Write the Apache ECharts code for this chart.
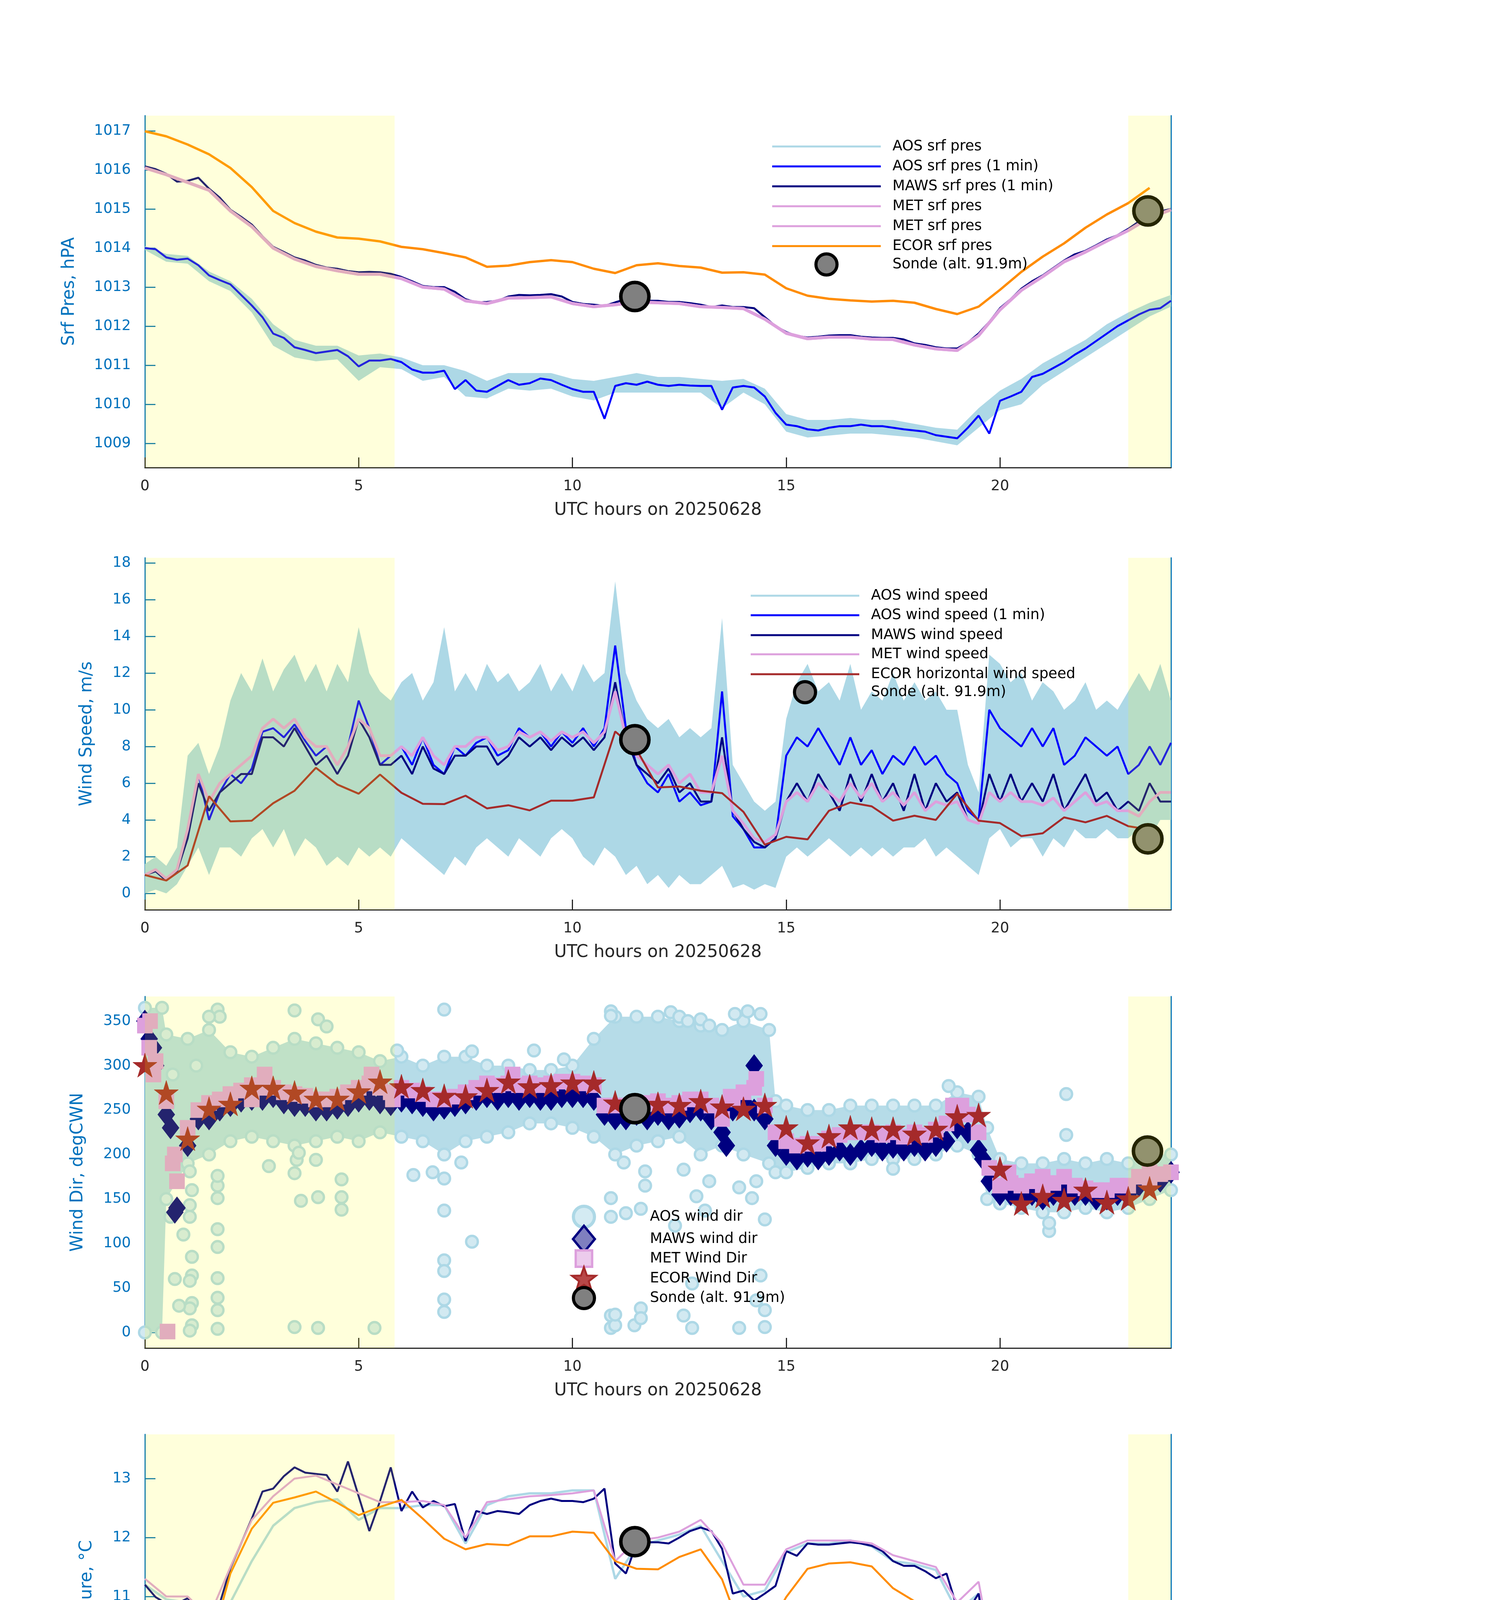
<!DOCTYPE html>
<html><head><meta charset="utf-8">
<script src="https://cdn.jsdelivr.net/npm/echarts@6/dist/echarts.min.js"></script>
<style>html,body{margin:0;padding:0;background:#fff}#c{width:3825px;height:7125px}</style>
</head><body><div id="c"></div>
<script>
// ---------------- DATA ----------------
const HOUR_TICKS = [0, 5, 10, 15, 20];
const SHADE = [[0, 5.84], [23.0, 24]];
const Y_TICKS = [
  [1009, 1010, 1011, 1012, 1013, 1014, 1015, 1016, 1017],
  [0, 2, 4, 6, 8, 10, 12, 14, 16, 18],
  [0, 50, 100, 150, 200, 250, 300, 350],
  [8, 9, 10, 11, 12, 13],
  [65, 70, 75, 80, 85, 90, 95, 100],
  [0, 2, 4, 6, 8, 10, 12, 14]
];
const Y_NAMES = ['Srf Pres, hPA', 'Wind Speed, m/s', 'Wind Dir, degCWN', 'Temperature, \u00B0C', 'Relative Humidity, %', 'Precip. Water Vapor, mm'];
const X_NAME = 'UTC hours on 20250628';

const P1_AOS1 = [1014.0,1013.97,1013.76,1013.7,1013.73,1013.56,1013.3,1013.18,1013.07,1012.8,1012.53,1012.23,1011.81,1011.7,1011.46,1011.39,1011.31,1011.35,1011.39,1011.23,1010.97,1011.12,1011.12,1011.16,1011.08,1010.89,1010.81,1010.81,1010.86,1010.39,1010.62,1010.35,1010.32,1010.47,1010.62,1010.5,1010.54,1010.66,1010.62,1010.5,1010.39,1010.32,1010.32,1009.63,1010.47,1010.54,1010.5,1010.58,1010.5,1010.47,1010.5,1010.48,1010.47,1010.47,1009.86,1010.43,1010.47,1010.43,1010.2,1009.78,1009.48,1009.44,1009.36,1009.33,1009.4,1009.44,1009.44,1009.48,1009.44,1009.44,1009.4,1009.36,1009.33,1009.3,1009.21,1009.17,1009.13,1009.4,1009.71,1009.25,1010.09,1010.2,1010.32,1010.7,1010.78,1010.93,1011.08,1011.27,1011.43,1011.62,1011.81,1012.0,1012.15,1012.3,1012.42,1012.46,1012.65];
const P1_MAWS = [1016.09,1016.02,1015.9,1015.7,1015.72,1015.8,1015.52,1015.29,1014.98,1014.8,1014.6,1014.3,1014.03,1013.9,1013.76,1013.68,1013.57,1013.5,1013.47,1013.41,1013.38,1013.39,1013.38,1013.34,1013.26,1013.15,1013.03,1013.0,1013.0,1012.88,1012.69,1012.61,1012.62,1012.65,1012.76,1012.8,1012.79,1012.8,1012.82,1012.76,1012.62,1012.57,1012.55,1012.52,1012.61,1012.69,1012.69,1012.65,1012.65,1012.62,1012.62,1012.59,1012.55,1012.49,1012.53,1012.49,1012.49,1012.46,1012.23,1012.0,1011.85,1011.75,1011.71,1011.73,1011.76,1011.77,1011.77,1011.73,1011.71,1011.7,1011.7,1011.66,1011.56,1011.52,1011.46,1011.43,1011.43,1011.58,1011.81,1012.11,1012.46,1012.69,1012.96,1013.15,1013.3,1013.49,1013.68,1013.84,1013.93,1014.07,1014.22,1014.33,1014.49,1014.68,1014.81,1014.94,1015.0];
const P1_MET = [1016.05,1015.88,1015.68,1015.48,1014.95,1014.55,1014.0,1013.72,1013.53,1013.42,1013.33,1013.33,1013.22,1013.0,1012.95,1012.65,1012.58,1012.72,1012.73,1012.75,1012.58,1012.5,1012.55,1012.62,1012.6,1012.58,1012.5,1012.48,1012.45,1012.18,1011.82,1011.68,1011.72,1011.72,1011.67,1011.66,1011.52,1011.42,1011.38,1011.76,1012.42,1012.92,1013.27,1013.65,1013.9,1014.18,1014.45,1014.78,1014.98];
const P1_AOS_HI = [1014.05,1013.85,1013.8,1013.4,1013.15,1012.7,1012.05,1011.65,1011.5,1011.5,1011.25,1011.3,1011.2,1011.0,1011.0,1010.85,1010.6,1010.8,1010.8,1010.8,1010.65,1010.6,1010.7,1010.8,1010.7,1010.7,1010.65,1010.6,1010.65,1010.4,1009.75,1009.6,1009.6,1009.65,1009.6,1009.6,1009.5,1009.4,1009.35,1009.9,1010.35,1010.65,1011.05,1011.35,1011.65,1012.05,1012.35,1012.6,1012.8];
const P1_AOS_LO = [1013.95,1013.65,1013.6,1013.15,1012.9,1012.35,1011.5,1011.2,1011.1,1011.15,1010.6,1010.95,1010.9,1010.6,1010.7,1010.2,1010.15,1010.4,1010.35,1010.4,1010.2,1010.1,1010.3,1010.3,1010.3,1010.3,1010.3,1009.9,1010.3,1010.0,1009.3,1009.15,1009.2,1009.25,1009.25,1009.2,1009.15,1009.05,1008.95,1009.4,1009.85,1010.0,1010.5,1010.85,1011.2,1011.55,1011.9,1012.25,1012.5];
const P1_ECOR = [1016.99,1016.86,1016.65,1016.4,1016.05,1015.56,1014.95,1014.64,1014.42,1014.27,1014.24,1014.17,1014.03,1013.97,1013.87,1013.76,1013.52,1013.55,1013.64,1013.69,1013.64,1013.47,1013.36,1013.56,1013.61,1013.54,1013.5,1013.37,1013.38,1013.32,1012.97,1012.78,1012.7,1012.66,1012.63,1012.65,1012.6,1012.44,1012.31,1012.5,1012.93,1013.39,1013.78,1014.12,1014.52,1014.86,1015.15,1015.54];
const P1_SONDE = [[11.46, 1012.76], [23.46, 1014.95]];

const P2_AOS1 = [1.0,1.3,0.8,1.3, 3.5,6.5,4.0,5.5, 6.5,6.0,6.8,8.8, 9.0,8.5,9.2,8.3, 7.5,8.0,7.0,8.0, 10.5,9.0,7.0,7.5, 8.0,7.0,8.5,7.0, 6.5,8.0,7.5,8.2, 8.5,7.5,7.8,9.0, 8.5,8.8,8.0,8.8, 8.2,9.0,8.0,9.0, 13.5,9.0,7.0,6.0, 5.5,6.5,5.0,5.5, 4.8,5.0,11.0,4.2, 3.5,2.5,2.5,3.0, 7.5,8.5,8.0,9.0, 8.0,7.0,8.5,7.0, 7.8,6.5,7.5,7.0, 8.0,7.0,7.5,6.5, 6.0,4.5,4.0,10.0, 9.0,8.5,8.0,9.0, 8.0,9.0,7.0,7.5, 8.5,8.0,7.5,8.0, 6.5,7.0,8.0,7.0, 8.2];
const P2_MAWS = [1.0,1.2,0.7,1.2, 3.0,6.0,4.5,5.5, 6.0,6.5,6.5,8.5, 8.5,8.0,9.0,8.0, 7.0,7.5,6.5,7.5, 9.5,8.5,7.0,7.0, 7.5,6.5,8.0,6.8, 6.5,7.5,7.5,8.0, 8.0,7.0,7.5,8.5, 8.0,8.5,7.8,8.5, 8.0,8.5,7.8,8.5, 11.5,8.5,7.0,6.5, 6.0,6.8,5.5,6.0, 5.0,5.0,8.5,4.5, 3.5,2.8,2.5,3.0, 5.0,6.0,5.0,6.5, 5.5,4.5,6.5,5.0, 6.5,5.0,6.0,4.5, 6.5,4.5,6.0,5.0, 5.5,4.0,3.8,6.5, 5.0,6.5,5.0,6.0, 5.0,6.5,4.5,5.5, 6.5,5.0,5.5,4.5, 5.0,4.5,6.0,5.0, 5.0];
const P2_MET = [1.0,1.3,0.8,1.3, 3.5,6.5,5.0,6.0, 6.5,7.0,7.5,9.0, 9.5,9.0,9.5,8.5, 8.0,8.0,7.0,8.0, 9.5,9.0,7.5,7.5, 8.0,7.5,8.5,7.5, 7.0,8.0,8.0,8.5, 8.5,7.8,8.0,8.8, 8.5,8.8,8.3,8.8, 8.5,8.8,8.2,8.8, 11.0,8.5,7.5,7.0, 6.5,7.0,6.0,6.5, 5.5,5.5,7.5,4.5, 3.8,3.0,2.8,3.2, 5.0,5.5,5.0,6.0, 5.5,5.0,6.0,5.2, 6.0,5.0,5.5,4.8, 5.5,4.5,5.0,4.8, 5.0,4.0,3.8,5.5, 5.0,5.5,5.0,5.0, 4.8,5.2,4.5,5.0, 5.5,4.8,5.0,4.5, 4.5,4.2,5.0,5.5, 5.5];
const P2_AOS_LO = [0.0,0.2,0.0,0.5, 1.5,2.5,1.0,2.5, 2.5,2.0,3.0,3.5, 2.5,3.5,2.0,3.0, 2.5,1.5,2.0,1.5, 2.5,2.0,2.5,2.0, 3.0,2.5,2.0,1.5, 1.0,2.0,1.5,2.5, 3.0,2.5,2.0,3.0, 2.5,2.0,3.0,3.5, 3.0,2.0,1.5,2.5, 2.0,1.0,1.5,0.5, 1.0,0.3,1.0,0.5, 0.5,1.0,1.5,0.3, 0.5,0.2,0.5,0.3, 2.0,2.5,2.0,2.5, 3.0,2.5,2.0,2.5, 2.0,2.5,2.0,2.5, 2.5,3.0,2.0,2.5, 2.0,1.5,1.0,3.0, 3.5,2.5,3.0,3.0, 2.0,3.0,2.5,3.5, 3.0,3.0,3.5,3.0, 3.0,3.5,3.0,4.0, 4.0];
const P2_AOS_HI = [1.6,2.0,1.5,2.5, 7.5,8.2,6.5,8.0, 10.5,12.0,11.0,12.8, 11.0,12.2,13.0,11.5, 12.5,11.0,12.5,11.5, 14.5,12.0,11.0,10.5, 11.5,12.0,10.5,11.5, 14.5,11.0,12.0,11.0, 12.5,11.5,12.0,11.0, 11.5,12.5,11.0,12.0, 11.0,12.5,11.5,12.0, 17.0,12.0,10.5,9.5, 9.0,9.5,8.5,9.0, 8.5,9.0,15.0,7.0, 6.0,5.0,4.5,5.0, 9.5,11.5,12.5,11.0, 11.5,10.5,12.5,10.0, 11.0,10.5,12.0,10.5, 11.5,10.5,11.0,10.0, 10.0,7.0,5.5,13.0, 12.5,11.5,12.0,10.5, 11.5,11.0,10.0,10.5, 11.5,10.0,10.5,10.0, 11.0,12.0,11.0,12.5, 10.5];
const P2_ECOR = [1.0,0.7,1.52,5.29,3.92,3.96,4.91,5.59,6.84,5.93,5.43,6.47,5.48,4.88,4.86,5.32,4.63,4.8,4.52,5.05,5.05,5.23,8.82,7.83,5.77,5.82,5.59,5.46,4.44,2.65,3.08,2.94,4.5,4.95,4.74,3.96,4.23,4.0,5.43,3.96,3.83,3.12,3.27,4.14,3.87,4.22,3.66,3.47];
const P2_SONDE = [[11.46, 8.37], [23.46, 2.97]];

const P3_AOS_BAND = [[0,0,365],[0.4,0,365],[0.5,150,335],[1.0,190,330],[1.5,200,340],[2.0,215,315],[2.5,220,310],[3.0,215,320],[3.5,210,330],[4.0,215,325],[4.5,220,320],[5.0,215,315],[5.5,225,305],[6.0,220,310],[6.5,215,300],[7.0,200,310],[7.5,215,310],[8.0,220,300],[8.5,225,300],[9.0,235,295],[9.5,235,295],[10.0,230,300],[10.5,220,330],[11.0,200,355],[11.5,210,355],[12.0,215,355],[12.5,220,350],[13.0,200,345],[13.5,210,340],[14.0,200,350],[14.6,190,340],[14.75,180,260],[15.0,180,255],[15.5,185,250],[16.0,190,250],[16.5,190,255],[17.0,195,255],[17.5,195,255],[18.0,195,255],[18.5,200,255],[19.0,210,270],[19.5,200,265],[19.7,150,230],[20.0,145,195],[20.5,140,190],[21.0,135,190],[21.5,135,195],[22.0,140,190],[22.5,135,195],[23.0,140,190],[23.5,150,200],[24.0,160,200]];
const P3_AOS_OUT = [[1.05,143],[1.05,130],[1.1,85],[1.1,64],[1.05,58],[1.1,33],[1.05,27],[1.1,8],[1.05,2],[1.05,181],[1.1,160],[1.7,116],[1.7,96],[1.7,61],[1.7,39],[1.7,25],[1.7,4],[1.7,151],[1.7,165],[1.7,176],[1.7,363],[1.75,355],[2.9,187],[3.5,6],[3.5,362],[3.5,179],[3.55,194],[3.6,202],[3.65,148],[4.05,5],[4.05,152],[4.05,352],[4.0,194],[4.25,344],[4.6,172],[4.6,152],[4.6,138],[5.37,5],[5.9,317],[6.28,177],[6.73,180],[7.0,363],[7.0,81],[7.0,69],[7.0,37],[7.0,23],[7.0,137],[7.0,173],[7.4,191],[7.65,102],[7.65,316],[9.1,317],[9.8,307],[10.9,361],[10.9,356],[10.9,130],[10.9,151],[10.9,19],[10.9,5],[11.0,8],[11.0,20],[11.2,191],[11.25,134],[11.45,8],[11.6,139],[11.6,27],[11.6,16],[11.7,165],[11.7,181],[12.3,360],[12.5,355],[12.7,350],[13.0,352],[13.2,345],[12.4,120],[12.6,19],[12.8,5],[13.1,137],[12.9,153],[12.8,55],[13.2,170],[12.6,183],[13.8,358],[14.1,361],[14.4,358],[13.9,5],[14.5,6],[14.3,36],[14.2,151],[13.9,163],[14.5,25],[14.4,64],[14.5,127],[14.3,170],[17.5,184],[21.55,268],[21.55,222],[21.15,114],[21.15,123],[18.8,277],[0.6,130],[0.7,60],[0.8,30],[0.9,110],[0.55,255],[0.65,290],[1.2,300],[1.5,355]];
const P3_MAWS = [350,300,245,140, 210,240,240,250, 255,260,262,262, 265,258,255,255, 250,250,252,255, 260,262,258,256, 260,258,255,250, 252,255,258,262, 265,262,265,262, 265,262,262,265, 265,265,262,245, 240,240,245,240, 245,240,242,248, 250,240,225,250, 260,250,240,210, 200,195,198,195, 200,205,200,205, 210,205,208,205, 210,205,210,215, 230,225,205,170, 155,155,150,155, 150,155,160,155, 155,150,150,155, 155,165,170,170, 180];
const P3_MAWS_EXTRA = [[0.1,330],[0.2,320],[0.6,230],[0.7,135],[14.25,300],[13.6,210],[19.6,195]];
const P3_MET = [345,305,260,170, 230,250,258,262, 268,272,278,275, 275,270,268,266, 262,262,265,270, 275,280,275,270, 275,272,268,262, 262,265,270,275, 280,278,280,278, 280,278,280,282, 282,280,278,255, 255,255,258,258, 260,255,258,262, 262,255,240,262, 270,275,255,225, 215,210,212,212, 218,222,225,225, 225,222,225,220, 225,222,228,235, 248,245,225,185, 165,168,165,170, 165,168,175,165, 162,160,160,165, 165,175,180,178, 180];
const P3_MET_EXTRA = [[0.53,1],[0.12,350],[0.1,320],[0.2,290],[0.65,190],[0.7,200],[14.3,285],[2.5,262],[2.8,290],[5.3,290],[5.8,262],[8.6,290],[13.7,265],[18.9,255],[19.1,255],[20.2,180],[21.0,175],[23.5,170]];
const P3_ECOR = [300.5,269.7,217.9,251.5,257,275,275,269.7,262.7,262.7,271,282,276.7,272.5,266,265.5,272.5,282,276.7,278,281,281,258.5,253,257,255.7,260,254,251.5,255.7,230.5,213.7,220.7,230.5,229,229,223.5,229,243,244.5,184,145,153.5,149,160.5,146.5,150.7,161.9];
const P3_SONDE = [[11.46, 251.5], [23.45, 203.9]];

const P4_AOS = [11.2,10.95,10.9,10.35,10.9,11.6,12.2,12.5,12.6,12.65,12.3,12.5,12.5,12.55,12.55,11.9,12.55,12.7,12.75,12.75,12.8,12.8,11.3,11.85,11.95,12.05,12.2,11.6,11.0,11.1,11.75,11.9,11.9,11.95,11.85,11.6,11.55,11.45,10.75,11.05,9.1,9.05,9.1,8.8,8.75,8.7,8.65,9.0,9.1];
const P4_MAWS = [11.2,10.99,10.88,10.88, 10.97,10.76,10.5,10.88, 11.48,11.9,12.32,12.78, 12.83,13.04,13.19,13.1, 13.08,13.06,12.78,13.29, 12.7,12.11,12.62,13.19, 12.45,12.78,12.51,12.62, 12.53,12.57,11.94,12.45, 12.4,12.45,12.43,12.4, 12.55,12.62,12.66,12.62, 12.62,12.6,12.66,12.83, 11.56,11.39,11.9,11.92, 11.92,11.9,12.0,12.11, 12.17,12.11,11.81,11.05, 11.1,10.93,11.05,11.18, 11.77,11.69,11.9,11.88, 11.88,11.9,11.92,11.9, 11.86,11.77,11.6,11.52, 11.52,11.43,11.31,11.39, 10.8,10.76,11.05,9.87, 9.11,9.09,9.05,9.09, 9.09,9.03,8.77,8.69, 8.69,8.65,8.69,8.65, 8.71,9.03,9.15,9.49, 9.51];
const P4_MET = [11.3,11.0,11.0,10.65,11.5,12.3,12.7,13.0,13.05,12.9,12.75,12.6,12.6,12.62,12.55,12.0,12.6,12.65,12.7,12.72,12.75,12.8,11.6,11.95,12.0,12.1,12.3,11.9,11.2,11.2,11.8,11.95,11.95,11.95,11.9,11.7,11.6,11.5,10.9,11.25,9.3,9.2,9.15,8.9,8.8,8.8,8.9,9.3,9.6];
const P4_ECOR = [10.24,10.36,10.39,10.07,11.39,12.15,12.59,12.68,12.78,12.59,12.38,12.52,12.64,12.32,11.98,11.8,11.89,11.87,12.02,12.02,12.1,12.08,11.6,11.47,11.46,11.67,11.8,11.29,10.31,10.35,10.99,11.47,11.56,11.58,11.51,11.14,10.92,10.84,10.46,10.31,9.62,8.46,8.71,8.37,8.05,8.11,8.37,8.93];
const P4_SONDE = [[11.46, 11.93], [23.45, 9.24]];

const P5_AOS = [90,94.5,97,99.5,98,90,77,73.5,75,74,77.5,66,77,74,76,80.5,74,78.5,78.5,76,78,78.5,89.5,87,89.5,85,87,90.5,95,98.5,80,76,73,72.5,73,67,73,76,89,86,95,94,88,86.5,84,84,82.5,79.5,77];
const P5_AOS1 = [90,92,95,95.5, 97,99.5,100,100, 98,94,90,80, 77,77.5,73.5,73, 75,74.5,74,77, 77.5,70,66,75, 77,75,74,74, 76,75,80.5,73, 74,77,78.5,77, 78.5,74.5,76,77, 78,75,78.5,79, 89.5,90,87,88.5, 89.5,88.5,85,85.5, 87,89,90.5,93, 95,97,98.5,96, 80,76,76,74, 73,73,72.5,71.5, 73,69.5,67,71, 73,75,76,77, 89,88,86,90, 95,96,94,90, 88,87.5,86.5,85.5, 84,82.5,84,83, 82.5,81.5,79.5,77, 77];
const P5_MAWS = [90,94,97,97, 97,98,98,98, 95,91,84,79, 76,77.5,73,74.5, 76,75,75,77, 79,72,67.5,76, 78,76,75,76, 78,77,81,75, 75,78,79.5,78, 79.5,76,77,78.5, 79.5,78,79.5,80, 89,89.5,88,88.5, 90,89,85.5,86, 87,89,90.5,92, 95,96,97,96, 82,78,77,76, 75,75.5,75,76, 75,73,71,74, 75,76,78,80, 90,88,87,90, 95,95,93,90, 88.5,89,88.5,88, 85.5,85,86,84, 83,82,80,77, 76];
const P5_MET = [90.5,96,97.5,98.5,97,88,78,74,77,76.5,79.5,67,78,76,79,84,76,81,80.5,77.5,80.5,81,90,88.5,90.5,86.5,88,91,95.5,97.5,84,79.5,77.5,77.5,77.5,75,77,81,90.5,88,95.5,94,89.5,89,87,87,84,81,77];
const P5_SONDE = [[11.46, 86.3], [23.45, 80.26]];

const P6_RED_BASE = [1.6,1.5,1.5,1.6, 1.5,1.6,1.5,1.45, 1.4,1.35,1.3,1.25, 1.2,1.25,1.2,1.2, 1.2,1.25,1.3,1.4, 1.35,1.3,1.3,1.35, 1.35,1.35,1.3,1.25, 1.3,1.45,1.35,1.4, 1.4,1.45,1.5,1.5, 1.5,1.45,1.5,1.55, 1.6,1.65,1.7,1.8, 1.95,1.9,1.95,1.9, 1.9,1.85,1.85,1.85, 1.9,2.0,1.8,1.9, 1.4,1.5,1.9,1.8, 1.7,1.7,1.7,1.7, 1.6,1.5,1.4,1.35, 1.3,1.3,1.35,1.35, 1.3,1.25,1.25,1.35, 1.4,1.45,1.5,1.6, 1.6,1.6,1.55,1.5, 1.45,1.4,1.35,1.25, 1.2,1.15,1.1,1.1, 1.15,1.2,1.2,1.15, 1.15];
const P6_RED_SPIKES = [
  [[0.1,1.15],[0.15,1.05],[0.2,1.3],[0.26,8.0],[0.28,10.2],[0.3,7.5],[0.33,6.0],[0.37,5.2],[0.42,4.6],[0.47,4.1],[0.5,5.5],[0.53,6.2],[0.57,5.8],[0.62,6.5],[0.67,5.5],[0.72,6.0],[0.78,5.0],[0.82,4.0],[0.86,3.4],[0.9,1.6],[0.94,1.0],[0.98,0.5],[1.0,-0.2],[1.03,0.8],[1.07,1.5],[1.1,5.0],[1.14,6.0],[1.18,5.0],[1.22,4.0],[1.26,3.0],[1.3,2.3],[1.35,1.8],[1.4,1.6]],
  [[10.75,1.8],[10.8,2.35],[10.85,1.9]],
  [[13.05,1.6],[13.1,2.5],[13.14,9.8],[13.17,7.0],[13.2,5.5],[13.22,3.0],[13.25,0.6],[13.28,1.5],[13.4,1.9],[13.55,1.3],[13.6,0.25],[13.65,1.2],[13.75,1.8],[13.8,4.2],[13.85,3.0],[13.9,2.0],[13.95,1.2],[14.05,1.5],[14.1,1.0],[14.15,1.4],[14.25,1.0],[14.35,1.8],[14.42,6.5],[14.45,11.0],[14.48,8.0],[14.5,10.0],[14.53,11.0],[14.56,7.0],[14.6,5.5],[14.65,4.5],[14.7,3.0],[14.75,2.0],[14.8,1.8]],
  [[18.75,1.3],[18.8,1.9],[18.85,1.5]],
  [[19.6,1.5],[19.65,1.5],[19.7,1.1],[19.73,2.8],[19.77,1.0],[19.8,5.4],[19.85,3.5],[19.9,2.5],[19.95,2.0],[20.05,1.65]]
];
const P6_BROWN_SPIKES = [
  [[0.1,1.6],[0.12,4.3],[0.14,1.5]],
  [[0.5,1.6],[0.52,12.4],[0.54,5.5]],
  [[0.88,2.0],[0.9,8.4],[0.92,3.0]],
  [[1.08,1.5],[1.1,10.6],[1.12,7.0],[1.14,6.0]],
  [[13.08,2.0],[13.11,3.8],[13.14,9.8],[13.17,5.0]],
  [[13.5,1.5],[13.55,8.4],[13.58,1.4]],
  [[13.68,1.8],[13.72,9.0],[13.76,6.5],[13.8,4.2]],
  [[14.0,1.5],[14.02,3.0],[14.04,1.4]],
  [[14.38,2.0],[14.4,12.2],[14.43,7.0],[14.45,13.4],[14.47,8.0],[14.5,9.0],[14.55,5.0],[14.6,4.8]],
  [[19.68,1.8],[19.7,5.9],[19.72,2.0],[19.75,10.9],[19.77,3.0],[19.8,5.4]]
];
const P6_ORANGE = [1.55,1.45,1.5,1.45,1.35,1.25,1.2,1.2,1.2,1.3,1.3,1.25,1.3,1.25,1.25,1.35,1.35,1.45,1.45,1.45,1.55,1.65,1.85,1.85,1.8,1.8,1.8,1.75,1.5,1.8,1.65,1.65,1.55,1.35,1.25,1.3,1.25,1.2,1.35,1.45,1.55,1.5,1.4,1.3,1.15,1.05,1.1,1.15,1.1];
const P6_ORANGE_DIPS = [[10.75,1.75],[10.8,1.5],[10.85,1.8],[13.15,1.8],[13.2,0.6],[13.25,1.7],[14.05,1.5],[14.1,1.2],[14.15,1.5],[14.28,1.6],[14.3,2.6],[14.32,1.6],[19.7,1.5],[19.75,0.3],[19.8,1.5]];
const P6_XMARKS = [[0.0,1.6],[0.6,8.5],[0.75,5.2],[0.78,4.9],[1.15,5.4],[2.3,1.35],[2.5,1.3],[3.0,1.25],[3.1,1.3],[4.75,1.55],[5.8,1.4],[6.2,1.35],[6.8,1.25],[7.3,1.5],[7.8,1.4],[8.5,1.5],[8.8,1.55],[9.0,1.55],[11.0,2.0],[11.5,1.95],[11.9,1.9],[12.2,1.9],[13.15,5.6],[13.15,5.4],[13.8,4.2],[14.0,4.2],[14.1,1.25],[14.6,5.6],[16.5,1.5],[17.0,1.4],[18.5,1.3],[19.5,1.5],[19.75,0.35],[21.0,1.45],[21.5,1.35],[22.3,1.15]];
const P6_SONDE = [[11.46, 2.05], [23.45, 1.31]];

// ---------------- LAYOUT ----------------
const GL = 371, GW = 2627;
const TOPS = [296, 1428, 2551, 3672, 4796, 5928];
const BOTS = [1197, 2329, 3451, 4573, 5696, 6829];
const YMIN = [1008.38, -0.894, -17.6, 7.78, 61.36, -0.81];
const YMAX = [1017.39, 18.28, 377.7, 13.75, 101.84, 14.08];
const NAMEGAP = [171, 126, 149, 126, 149, 126];
const FONT = 'DejaVu Sans';
const BLUE_AX = '#0072BD', DARK = '#262626';
const C = {lb:'#ADD8E6', blue:'#0000FF', navy:'#000080', pink:'#DDA0DD', orange:'#FF8C00', brown:'#A52A2A', orange2:'#FFA500', red:'#FF0000'};
const STAR = 'path://M50,0L61,35L98,35L68,57L79,91L50,70L21,91L32,57L2,35L39,35Z';
const XMARK = 'path://M0,0L10,10M10,0L0,10';

function ts(step, arr) { return arr.map((v, i) => [+(i * step).toFixed(4), v]); }
function L(gi, data, color, width, z) {
  return {type:'line', xAxisIndex:gi, yAxisIndex:2*gi, data, showSymbol:false, symbol:'none',
    lineStyle:{color, width}, itemStyle:{color}, z:z||3, silent:true, animation:false};
}
function S(gi, data, symbol, size, color, bc, bw, z) {
  return {type:'scatter', xAxisIndex:gi, yAxisIndex:2*gi, data, symbol, symbolSize:size,
    itemStyle:{color, borderColor:bc, borderWidth:bw, opacity:1}, z:z||4, silent:true, animation:false};
}
function B(gi, tri, color, z) {
  return {type:'custom', xAxisIndex:gi, yAxisIndex:2*gi, data:[[tri[0][0], tri[0][1]]], z:z||2, silent:true, animation:false,
    renderItem: function(p, api) {
      const up = tri.map(r => api.coord([r[0], r[2]]));
      const dn = tri.slice().reverse().map(r => api.coord([r[0], r[1]]));
      return {type:'polygon', shape:{points: up.concat(dn)}, style:{fill: color}};
    }};
}
function tri(step, lo, hi) { return lo.map((v, i) => [i * step, v, hi[i]]); }
function sonde(gi, data) { return S(gi, data, 'circle', 72, '#808080', '#000000', 9, 30); }
function shade(gi) {
  return {type:'line', xAxisIndex:gi, yAxisIndex:2*gi, data:[[0, YMIN[gi]]], symbol:'none', showSymbol:false,
    lineStyle:{width:0}, z:100, silent:true, animation:false,
    markArea:{silent:true, z:100, itemStyle:{color:'rgba(255,255,0,0.14)'},
      data: SHADE.map(s => [{xAxis:s[0]}, {xAxis:s[1]}])}};
}

const grid = [], xAxis = [], yAxis = [], series = [];
for (let g = 0; g < 6; g++) {
  grid.push({left:GL, width:GW, top:TOPS[g], height:BOTS[g]-TOPS[g], containLabel:false});
  xAxis.push({type:'value', gridIndex:g, min:0, max:24, name:X_NAME, nameLocation:'middle', nameGap:88,
    nameTextStyle:{color:DARK, fontSize:44, fontFamily:FONT},
    axisLine:{show:true, onZero:false, lineStyle:{color:DARK, width:3}},
    axisTick:{show:true, inside:true, length:26, lineStyle:{color:DARK, width:3}, customValues:HOUR_TICKS},
    axisLabel:{show:true, color:DARK, fontSize:37, fontFamily:FONT, margin:30, customValues:HOUR_TICKS, formatter: v => String(v)},
    splitLine:{show:false}});
  yAxis.push({type:'value', gridIndex:g, min:YMIN[g], max:YMAX[g], position:'left', name:Y_NAMES[g], nameLocation:'middle',
    nameGap:NAMEGAP[g], nameTextStyle:{color:BLUE_AX, fontSize:44, fontFamily:FONT},
    axisLine:{show:true, onZero:false, lineStyle:{color:BLUE_AX, width:3}},
    axisTick:{show:true, inside:true, length:27, lineStyle:{color:BLUE_AX, width:3}, customValues:Y_TICKS[g]},
    axisLabel:{show:true, color:BLUE_AX, fontSize:37, fontFamily:FONT, margin:36, customValues:Y_TICKS[g], formatter: v => String(v)},
    splitLine:{show:false}});
  yAxis.push({type:'value', gridIndex:g, min:YMIN[g], max:YMAX[g], position:'right',
    axisLine:{show:true, onZero:false, lineStyle:{color:BLUE_AX, width:3}},
    axisTick:{show:false}, axisLabel:{show:false}, splitLine:{show:false}});
}

series.push(B(0, tri(0.5, P1_AOS_LO, P1_AOS_HI), C.lb, 2));
series.push(L(0, ts(0.25, P1_AOS1), C.blue, 5, 3));
series.push(L(0, ts(0.25, P1_MAWS), C.navy, 5, 4));
series.push(L(0, ts(0.5, P1_MET), C.pink, 8, 5));
series.push(L(0, ts(0.5, P1_MET), C.pink, 8, 5));
series.push(L(0, ts(0.5, P1_ECOR), C.orange, 6, 6));
series.push(sonde(0, P1_SONDE));

series.push(B(1, tri(0.25, P2_AOS_LO, P2_AOS_HI), C.lb, 2));
series.push(L(1, ts(0.25, P2_AOS1), C.blue, 5, 3));
series.push(L(1, ts(0.25, P2_MAWS), C.navy, 5, 4));
series.push(L(1, ts(0.25, P2_MET), C.pink, 7, 5));
series.push(L(1, ts(0.5, P2_ECOR), C.brown, 5, 6));
series.push(sonde(1, P2_SONDE));

series.push(B(2, P3_AOS_BAND, '#b6dce8', 2));
series.push(S(2, P3_AOS_BAND.map(r => [r[0], r[1]]).concat(P3_AOS_BAND.map(r => [r[0], r[2]])).concat(P3_AOS_OUT),
  'circle', 30, '#d2e9f1', C.lb, 6, 3));
series.push(S(2, ts(0.25, P3_MAWS).concat(P3_MAWS_EXTRA), 'diamond', [40, 52], C.navy, C.navy, 4, 4));
series.push(S(2, ts(0.25, P3_MET).concat(P3_MET_EXTRA), 'rect', 36, C.pink, C.pink, 4, 5));
series.push(S(2, ts(0.5, P3_ECOR), STAR, 62, '#A52A2A', '#A52A2A', 1, 6));
series.push(sonde(2, P3_SONDE));

series.push(L(3, ts(0.5, P4_AOS), C.lb, 6, 2));
series.push(L(3, ts(0.25, P4_MAWS), C.navy, 5, 3));
series.push(L(3, ts(0.5, P4_MET), C.pink, 5, 4));
series.push(L(3, ts(0.5, P4_ECOR), C.orange, 5, 5));
series.push(sonde(3, P4_SONDE));

series.push(L(4, ts(0.5, P5_AOS), C.lb, 7, 2));
series.push(L(4, ts(0.25, P5_AOS1), C.blue, 5, 3));
series.push(L(4, ts(0.25, P5_MAWS), C.navy, 5, 4));
series.push(L(4, ts(0.5, P5_MET), C.pink, 5, 5));
series.push(sonde(4, P5_SONDE));

series.push(L(5, ts(0.5, P6_ORANGE).concat(P6_ORANGE_DIPS).sort((a, b) => a[0] - b[0]), C.orange2, 4, 2));
P6_BROWN_SPIKES.forEach(cl => series.push(L(5, cl, C.brown, 4, 3)));
series.push(L(5, ts(0.25, P6_RED_BASE), C.red, 11, 4));
P6_RED_SPIKES.forEach(cl => {
  const s = L(5, cl, C.red, 4, 5);
  s.showSymbol = true; s.symbol = 'circle'; s.symbolSize = 11;
  series.push(s);
});
series.push(S(5, P6_XMARKS, XMARK, 24, 'rgba(0,0,0,0)', '#b4502d', 5, 6));
series.push(sonde(5, P6_SONDE));

for (let g = 0; g < 6; g++) series.push(shade(g));

const LG = [];
const LZ = 40;
function lgLine(x0, y, color, w) { LG.push({type:'line', z:LZ, shape:{x1:x0, y1:y, x2:x0+278, y2:y}, style:{stroke:color, lineWidth:w}}); }
function lgText(x0, y, text) { LG.push({type:'text', z:LZ, x:x0+308, y:y, style:{text, fill:'#000', fontSize:37, fontFamily:FONT, verticalAlign:'middle', align:'left'}}); }
function lgSonde(x0, y) { LG.push({type:'circle', z:LZ, shape:{cx:x0+139, cy:y, r:27}, style:{fill:'#808080', stroke:'#000', lineWidth:8}}); }
function legendBlock(x0, rows, items) {
  items.forEach((it, i) => {
    const y = rows[i];
    if (it.k === 'line') lgLine(x0, y, it.c, 5);
    else if (it.k === 'sonde') lgSonde(x0, y);
    else if (it.k === 'circle') LG.push({type:'circle', z:LZ, shape:{cx:x0+139, cy:y, r:27}, style:{fill:'#d4ebf3', stroke:C.lb, lineWidth:8}});
    else if (it.k === 'diamond') LG.push({type:'polygon', z:LZ, shape:{points:[[x0+139,y-34],[x0+167,y],[x0+139,y+34],[x0+111,y]]}, style:{fill:'#7f7fbf', stroke:C.navy, lineWidth:6}});
    else if (it.k === 'square') LG.push({type:'rect', z:LZ, shape:{x:x0+118, y:y-21, width:42, height:42}, style:{fill:'#eccbec', stroke:C.pink, lineWidth:6}});
    else if (it.k === 'star') {
      const pts = [];
      for (let j = 0; j < 10; j++) { const r = j % 2 ? 13 : 32; const a = -Math.PI/2 + j*Math.PI/5; pts.push([x0+139+r*Math.cos(a), y+3+r*Math.sin(a)]); }
      LG.push({type:'polygon', z:LZ, shape:{points:pts}, style:{fill:'#b84848', stroke:C.brown, lineWidth:5}});
    } else if (it.k === 'linex') {
      lgLine(x0, y, it.c, 5);
      LG.push({type:'line', z:LZ, shape:{x1:x0+129, y1:y-11, x2:x0+149, y2:y+11}, style:{stroke:it.c, lineWidth:5}});
      LG.push({type:'line', z:LZ, shape:{x1:x0+129, y1:y+11, x2:x0+149, y2:y-11}, style:{stroke:it.c, lineWidth:5}});
    }
    lgText(x0, y, it.t);
  });
}
legendBlock(1977, [375,426,477,528,579,630,677], [
  {k:'line', c:C.lb, t:'AOS srf pres'}, {k:'line', c:C.blue, t:'AOS srf pres (1 min)'},
  {k:'line', c:C.navy, t:'MAWS srf pres (1 min)'}, {k:'line', c:C.pink, t:'MET srf pres'},
  {k:'line', c:C.pink, t:'MET srf pres'}, {k:'line', c:C.orange, t:'ECOR srf pres'},
  {k:'sonde', t:'Sonde (alt. 91.9m)'}]);
legendBlock(1922, [1525,1575,1626,1675,1726,1772], [
  {k:'line', c:C.lb, t:'AOS wind speed'}, {k:'line', c:C.blue, t:'AOS wind speed (1 min)'},
  {k:'line', c:C.navy, t:'MAWS wind speed'}, {k:'line', c:C.pink, t:'MET wind speed'},
  {k:'line', c:C.brown, t:'ECOR horizontal wind speed'}, {k:'sonde', t:'Sonde (alt. 91.9m)'}]);
legendBlock(1356, [3115,3172,3222,3273,3323], [
  {k:'circle', t:'AOS wind dir'}, {k:'diamond', t:'MAWS wind dir'}, {k:'square', t:'MET Wind Dir'},
  {k:'star', t:'ECOR Wind Dir'}, {k:'sonde', t:'Sonde (alt. 91.9m)'}]);
legendBlock(1356, [4244,4295,4346,4397,4444], [
  {k:'line', c:C.lb, t:'AOS srf air temp'}, {k:'line', c:C.navy, t:'MAWS srf air temp'},
  {k:'line', c:C.pink, t:'MET srf air temp'}, {k:'line', c:C.orange, t:'ECOR srf air temp'},
  {k:'sonde', t:'Sonde (alt. 91.9m)'}]);
legendBlock(482, [4921,4972,5023,5074,5126], [
  {k:'line', c:C.lb, t:'AOS RH'}, {k:'line', c:C.blue, t:'AOS RH (1 min)'},
  {k:'line', c:C.navy, t:'MAWS RH'}, {k:'line', c:C.pink, t:'MET RH'}, {k:'sonde', t:'Sonde (alt. 91.9m)'}]);
legendBlock(2236, [5987,6038,6085], [
  {k:'linex', c:C.orange2, t:'MWR 2C PWV'}, {k:'line', c:C.brown, t:'MWR 3C PWV'}, {k:'sonde', t:'Sonde (alt. 91.9m)'}]);

const chart = echarts.init(document.getElementById('c'), null, {renderer:'canvas', width:3825, height:7125});
chart.setOption({
  backgroundColor:'#ffffff', animation:false,
  textStyle:{fontFamily:FONT},
  grid, xAxis, yAxis, series,
  graphic:{elements: LG}
});
</script></body></html>
